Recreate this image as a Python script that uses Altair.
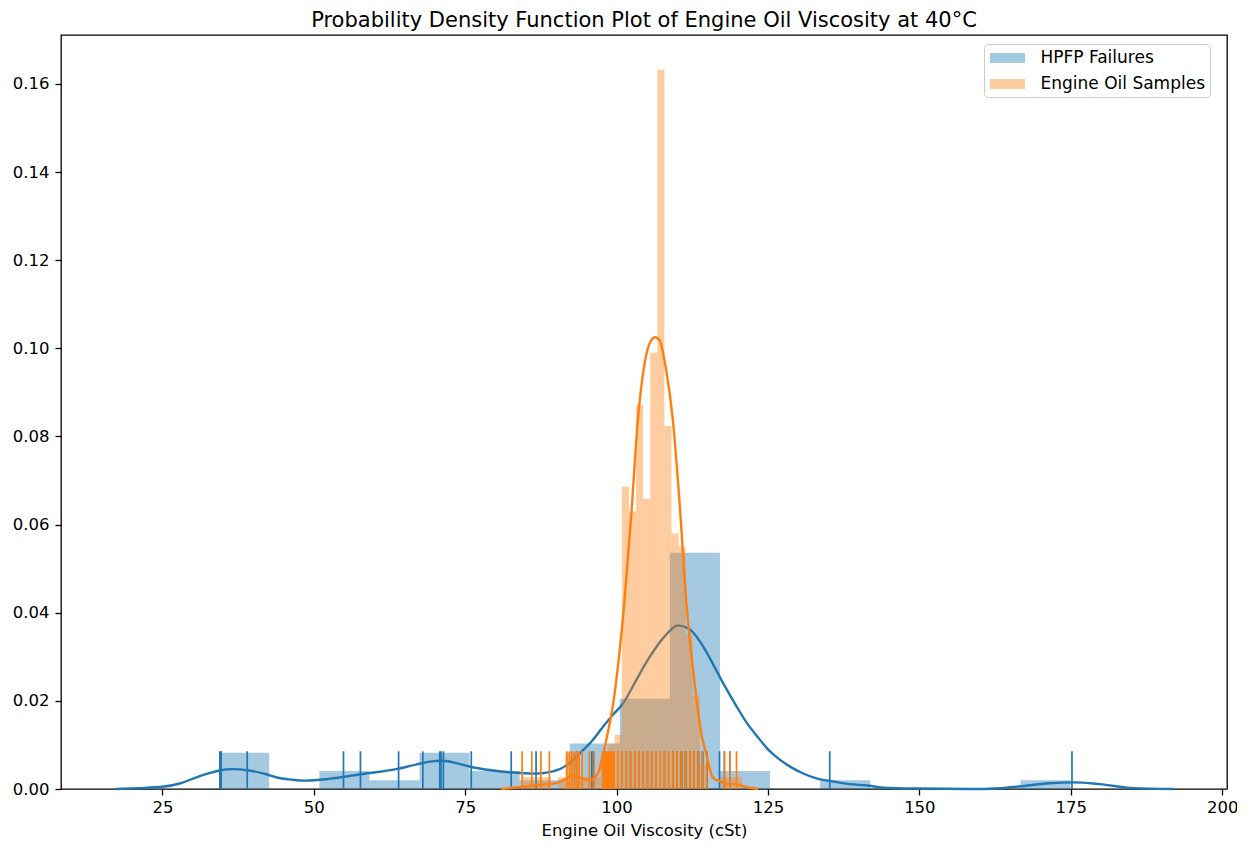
import altair as alt
import pandas as pd

# ---------------- data ----------------
series_names = ["HPFP Failures", "Engine Oil Samples"]

# HPFP failures histogram (density)
hpfp_bin_start = [34.37, 42.64, 50.91, 59.18, 67.45, 75.72, 83.99, 92.26, 100.53,
                  108.80, 117.07, 125.34, 133.61, 141.88, 150.15, 158.42, 166.69]
hpfp_bin_end = [42.64, 50.91, 59.18, 67.45, 75.72, 83.99, 92.26, 100.53, 108.80,
                117.07, 125.34, 133.61, 141.88, 150.15, 158.42, 166.69, 174.96]
hpfp_density = [0.0082, 0.0, 0.0041, 0.0020, 0.0082, 0.0041, 0.0020, 0.0103, 0.0205,
                0.0536, 0.0041, 0.0, 0.0020, 0.0, 0.0, 0.0, 0.0020]

# HPFP KDE curve
hpfp_kde_x = [17.3, 21.0, 25.0, 28.0, 30.5, 33.0, 34.4, 36.6, 39.3, 42.0, 44.3, 46.5,
              48.7, 52.5, 58.0, 63.6, 67.0, 69.1, 71.3, 74.0, 75.7, 79.0, 82.3, 86.7,
              90.6, 92.5, 94.4, 96.0, 97.7, 99.5, 101.0, 103.2, 104.8, 106.5, 108.3,
              110.1, 112.0, 114.0, 115.9, 117.8, 119.7, 121.5, 123.3, 125.0, 127.0,
              129.0, 131.0, 133.0, 135.8, 138.5, 141.4, 144.0, 150.0, 160.5, 163.5,
              166.0, 171.5, 175.4, 179.8, 185.3, 191.9]
hpfp_kde_y = [0.0, 0.0002, 0.0005, 0.0013, 0.0026, 0.0037, 0.0042, 0.0045, 0.0042,
              0.0034, 0.0025, 0.0021, 0.0019, 0.0023, 0.0034, 0.0045, 0.0056, 0.0062,
              0.0064, 0.0057, 0.0051, 0.0043, 0.0038, 0.0035, 0.0045, 0.0062, 0.0087,
              0.0110, 0.0140, 0.0170, 0.0193, 0.0246, 0.0285, 0.0321, 0.0352, 0.0371,
              0.0363, 0.0330, 0.0284, 0.0235, 0.0190, 0.0150, 0.0118, 0.0090, 0.0066,
              0.0048, 0.0034, 0.0024, 0.0017, 0.0011, 0.0008, 0.0003, 0.0001, 0.0000,
              0.0002, 0.0005, 0.0013, 0.0015, 0.0011, 0.0002, 0.0]

# HPFP rug values
hpfp_rug = [34.5, 34.6, 34.7, 39.0, 54.9, 57.7, 64.0, 68.0, 70.8, 71.0, 71.4, 76.0,
            82.6, 86.7, 93.4, 95.9, 96.2, 98.1, 99.1,
            100.9, 101.6, 102.3, 103.0, 103.7, 104.4, 105.1, 105.8, 106.5, 107.9,
            109.3, 109.3, 109.3, 110.0, 110.0, 110.0, 110.7, 110.7, 110.7, 111.4,
            111.4, 111.4, 112.1, 112.1, 112.1, 112.8, 112.8, 112.8, 113.5, 113.5,
            113.5, 114.2, 114.2, 114.9, 114.9, 117.0, 117.8, 118.7, 135.2, 175.2]

# Engine oil samples histogram (density)
oil_bin_start = [84.49, 85.66, 86.83, 88.00, 89.17, 90.34, 91.51, 92.68, 93.85, 95.02,
                 96.19, 97.36, 98.53, 99.70, 100.87, 102.04, 103.21, 104.38, 105.55,
                 106.72, 107.89, 109.06, 110.23, 111.40, 112.57, 113.74, 114.91, 116.08,
                 117.25, 118.42, 119.59]
oil_bin_end = [85.66, 86.83, 88.00, 89.17, 90.34, 91.51, 92.68, 93.85, 95.02, 96.19,
               97.36, 98.53, 99.70, 100.87, 102.04, 103.21, 104.38, 105.55, 106.72,
               107.89, 109.06, 110.23, 111.40, 112.57, 113.74, 114.91, 116.08, 117.25,
               118.42, 119.59, 120.76]
oil_density = [0.0027, 0.0027, 0.0027, 0.0027, 0.0, 0.0027, 0.0082, 0.0082, 0.0027,
               0.0027, 0.0027, 0.0082, 0.0103, 0.0123, 0.0686, 0.0630, 0.0872, 0.0658,
               0.0990, 0.1632, 0.0824, 0.0580, 0.0550, 0.0350, 0.0213, 0.0055, 0.0,
               0.0, 0.0027, 0.0027, 0.0027]

# Engine oil KDE curve
oil_kde_x = [80.9, 84.5, 87.8, 90.0, 91.6, 92.8, 93.9, 95.6, 96.9, 97.7, 98.5, 99.4,
             100.2, 101.3, 102.4, 103.5, 104.6, 105.7, 106.4, 107.1, 108.2, 109.3,
             110.4, 111.5, 112.9, 114.0, 114.8, 115.9, 117.5, 118.1, 119.7, 121.5, 123.4]
oil_kde_y = [0.0, 0.0005, 0.0010, 0.0013, 0.0023, 0.0032, 0.0026, 0.0020, 0.0035,
             0.0075, 0.0125, 0.0190, 0.0276, 0.0427, 0.0617, 0.0836, 0.0964, 0.1018,
             0.1025, 0.1018, 0.0950, 0.0836, 0.0650, 0.0427, 0.0238, 0.0125, 0.0079,
             0.0026, 0.0015, 0.0011, 0.0011, 0.0004, 0.0]

# Engine oil rug values
oil_rug = [84.4, 86.0, 87.5, 88.9, 91.8, 92.2, 92.6, 93.0, 93.4, 93.8, 94.3, 95.5,
           96.3, 97.7, 97.9, 98.1, 98.3, 98.5, 98.7, 98.9, 99.1, 99.3, 99.5, 99.6,
           100.2, 100.9, 101.6, 102.3, 103.0, 103.7, 104.4, 105.1, 105.8, 106.5,
           107.2, 107.9, 108.6, 109.3, 110.0, 110.7, 111.4, 112.1, 112.8, 113.5,
           114.2, 114.9, 117.8, 118.7, 119.8]

x_ticks = [25, 50, 75, 100, 125, 150, 175, 200]
y_ticks = [0.0, 0.02, 0.04, 0.06, 0.08, 0.10, 0.12, 0.14, 0.16]

# ---------------- tables ----------------
hpfp_hist = pd.DataFrame({"start": hpfp_bin_start, "end": hpfp_bin_end,
                          "density": hpfp_density, "series": series_names[0]})
oil_hist = pd.DataFrame({"start": oil_bin_start, "end": oil_bin_end,
                         "density": oil_density, "series": series_names[1]})
hpfp_kde = pd.DataFrame({"x": hpfp_kde_x, "density": hpfp_kde_y})
oil_kde = pd.DataFrame({"x": oil_kde_x, "density": oil_kde_y})
hpfp_rug_df = pd.DataFrame({"x": hpfp_rug})
oil_rug_df = pd.DataFrame({"x": oil_rug})

BLUE = "#1f77b4"
ORANGE = "#ff7f0e"
W, H = 1166, 754
FONT = "DejaVu Sans"

x_scale = alt.Scale(domain=[8.25, 200.8], nice=False, zero=False)
y_scale = alt.Scale(domain=[0, 0.1711], nice=False, zero=True)
color_scale = alt.Scale(domain=series_names, range=[BLUE, ORANGE])

x_axis = alt.Axis(values=x_ticks, format="d", grid=False)
y_axis = alt.Axis(values=y_ticks, format=".2f", grid=False, labelPadding=6)
XT = "Engine Oil Viscosity (cSt)"

legend = alt.Legend(
    title=None, orient="none", legendX=923, legendY=9,
    symbolType="M-1.95,-0.56H1.95V0.56H-1.95Z", symbolSize=324, symbolOpacity=0.4,
    symbolStrokeWidth=0, symbolOffset=9.5,
    labelFontSize=17, labelFont=FONT, labelColor="black", labelLimit=400,
    labelOffset=24, rowPadding=9, padding=5, strokeColor="#cccccc",
    fillColor="white", cornerRadius=4,
)


def hist_layer(df):
    return alt.Chart(df).mark_rect(opacity=0.4).encode(
        x=alt.X("start:Q", scale=x_scale, axis=x_axis, title=XT),
        x2="end:Q",
        y=alt.Y("density:Q", scale=y_scale, axis=y_axis, title=None),
        y2=alt.datum(0),
        color=alt.Color("series:N", scale=color_scale, legend=legend),
    )


def kde_layer(df, color):
    return alt.Chart(df).mark_line(color=color, strokeWidth=2.4, interpolate="monotone").encode(
        x=alt.X("x:Q", scale=x_scale, axis=x_axis, title=XT),
        y=alt.Y("density:Q", scale=y_scale, axis=y_axis, title=None),
    )


def rug_layer(df, color):
    return alt.Chart(df).mark_rule(color=color, strokeWidth=1.7).encode(
        x=alt.X("x:Q", scale=x_scale, axis=x_axis, title=XT),
        y=alt.value(H),
        y2=alt.value(H - 37.7),
    )


chart = alt.layer(
    hist_layer(hpfp_hist), kde_layer(hpfp_kde, BLUE), rug_layer(hpfp_rug_df, BLUE),
    hist_layer(oil_hist), kde_layer(oil_kde, ORANGE), rug_layer(oil_rug_df, ORANGE),
).properties(
    width=W, height=H,
    title=alt.TitleParams(
        "Probability Density Function Plot of Engine Oil Viscosity at 40°C",
        font=FONT, fontSize=21, fontWeight="normal", color="black", offset=4.5,
    ),
    autosize=alt.AutoSizeParams(type="none"),
    padding={"left": 53, "top": 27, "right": 10, "bottom": 64},
).configure_view(
    stroke="black", strokeWidth=1.3
).configure_axis(
    domain=False, ticks=True, tickSize=6, tickWidth=1.3, tickColor="black",
    labelFont=FONT, labelFontSize=16.5, labelColor="black", labelPadding=4,
    titleFont=FONT, titleFontSize=16.5, titleFontWeight="normal", titleColor="black",
).configure_axisX(titlePadding=7)

chart.save("out.html", embed_options={"renderer": "svg", "actions": False})
